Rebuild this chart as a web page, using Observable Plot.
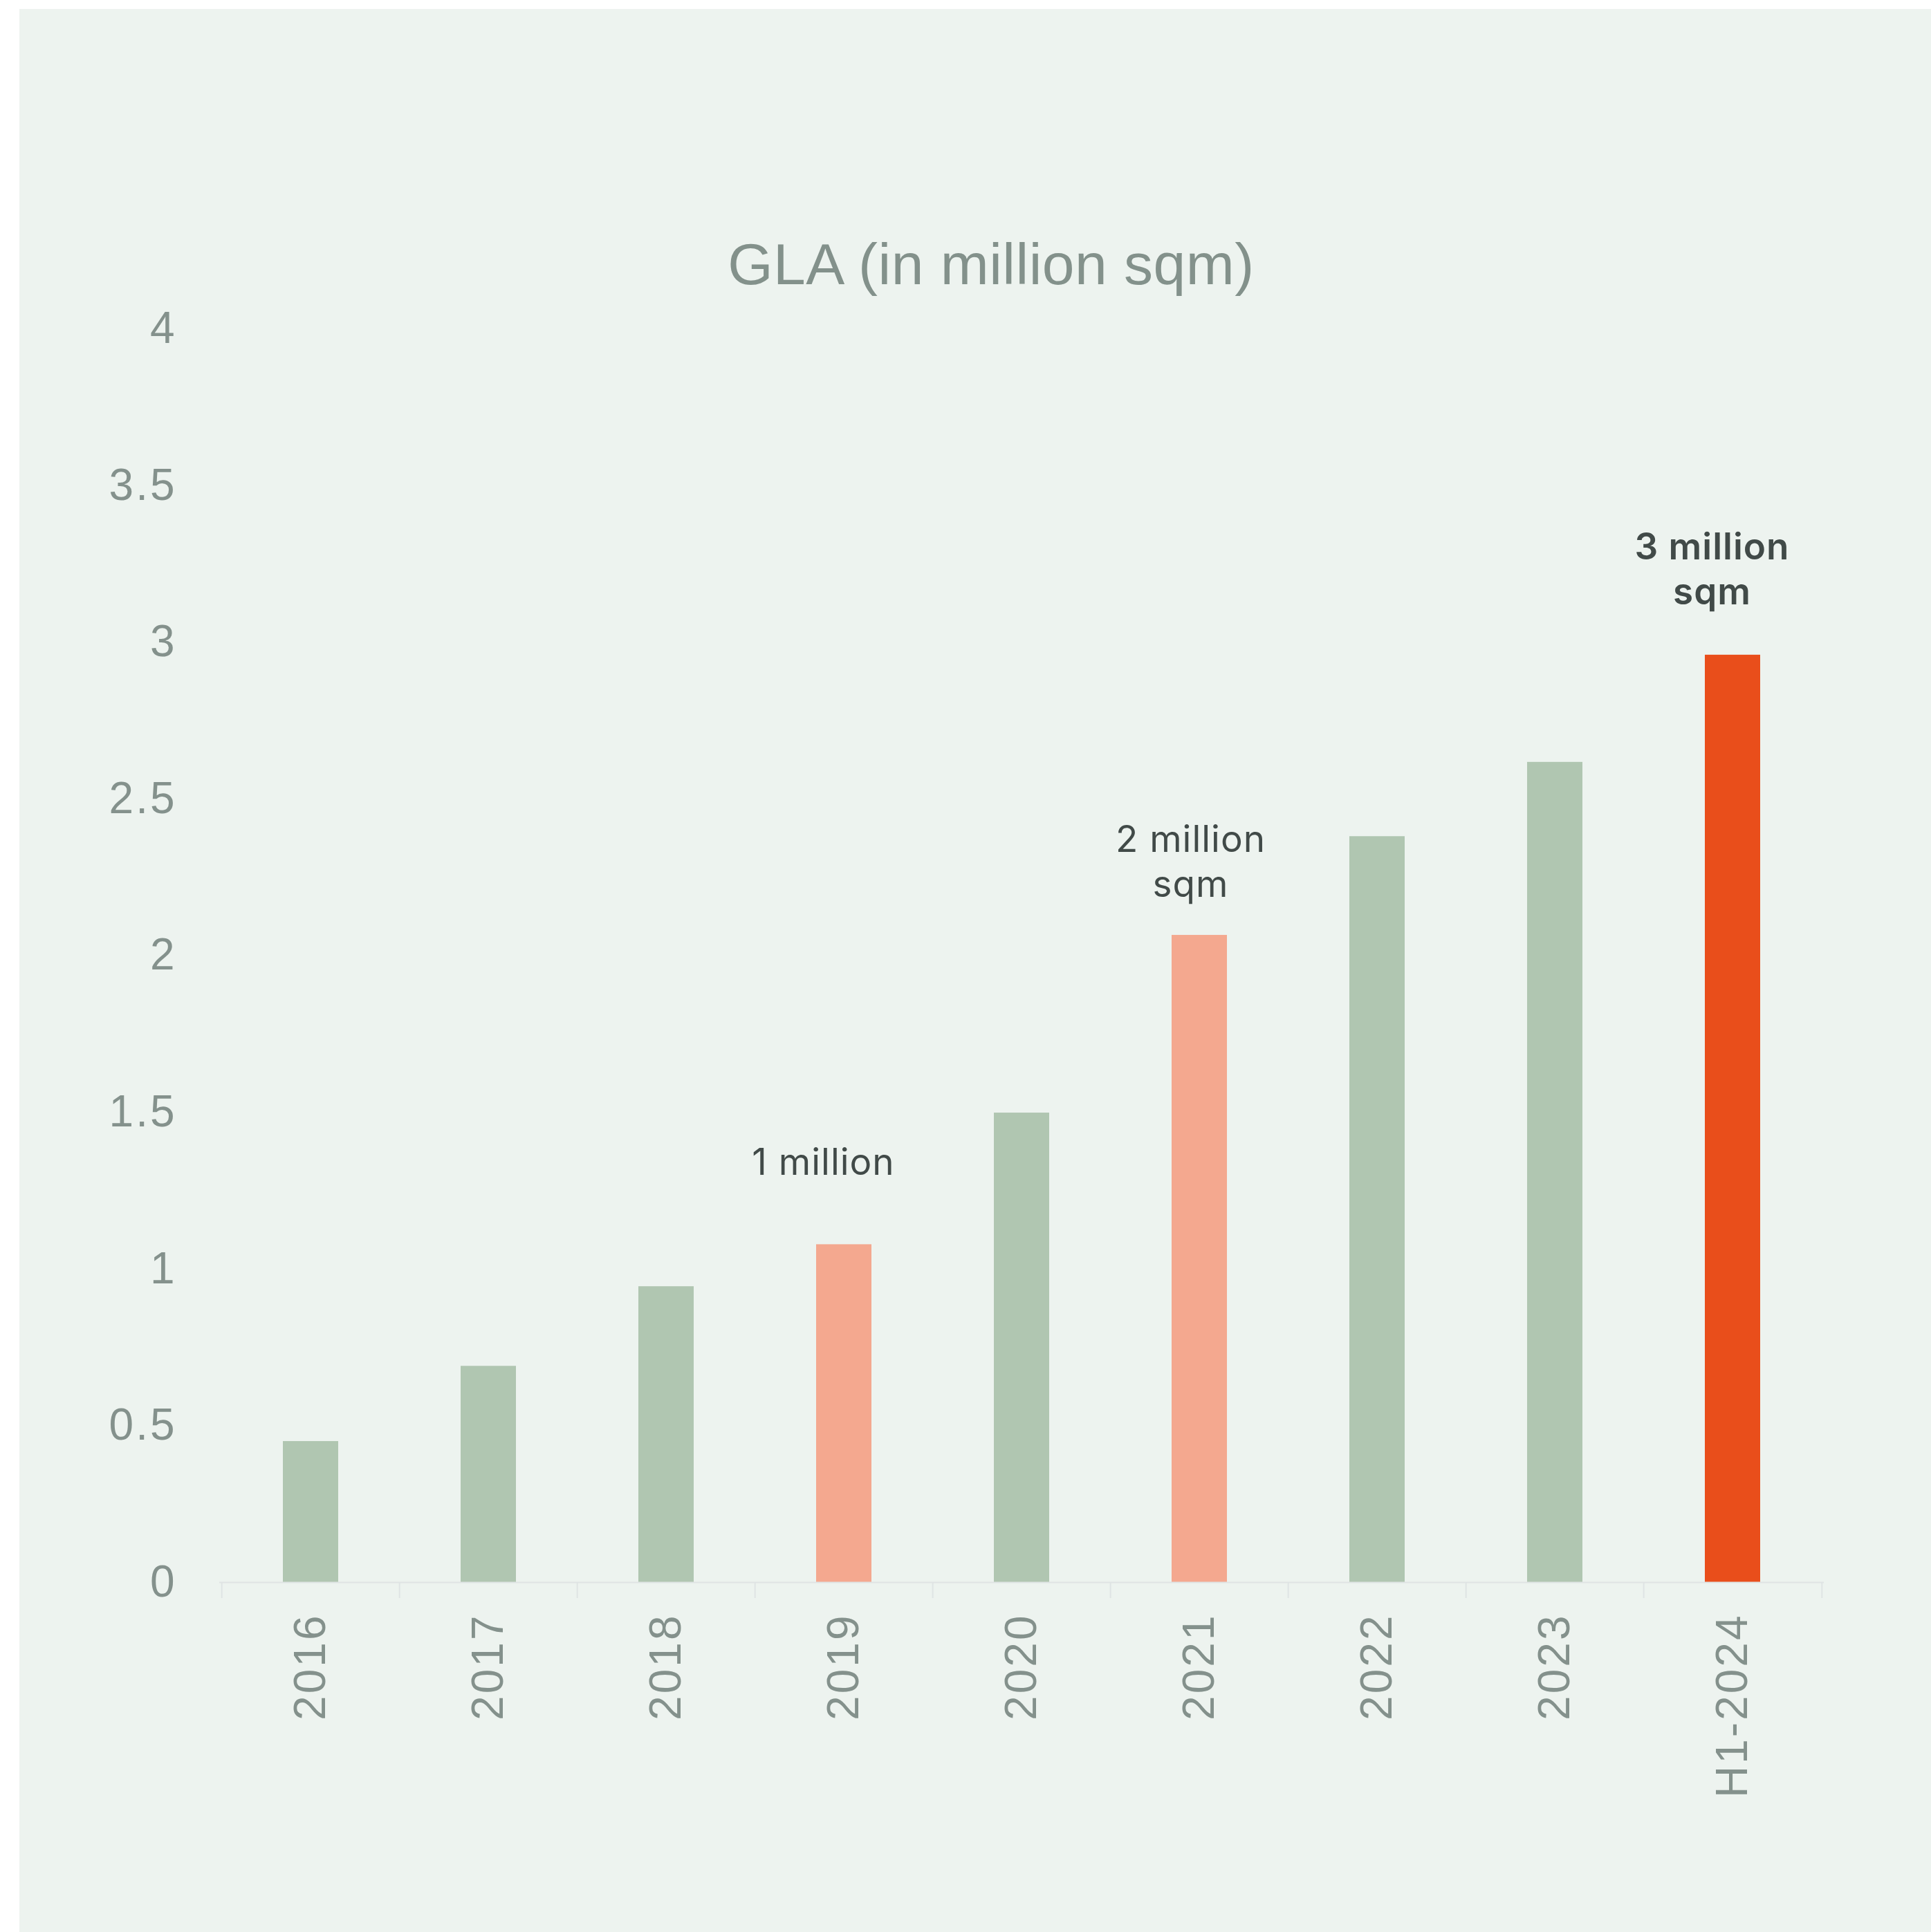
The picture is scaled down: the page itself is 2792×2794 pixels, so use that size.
<!DOCTYPE html>
<html>
<head>
<meta charset="utf-8">
<script src="https://cdn.jsdelivr.net/npm/d3@7"></script>
<script src="https://cdn.jsdelivr.net/npm/@observablehq/plot@0.6"></script>
<style>
  html, body { margin: 0; padding: 0; background: #ffffff; }
  body { width: 2792px; height: 2794px; position: relative; overflow: hidden; }
  #panel { position: absolute; left: 28px; top: 13px; width: 2764px; height: 2781px; background: #edf3ef; }
  #title { position: absolute; top: 340px; left: 1433px; transform: translateX(-50%); white-space: nowrap;
           font-family: "Liberation Sans", Arial, sans-serif; font-size: 84px; line-height: 84px; color: #83918b;
           letter-spacing: 0.5px; }
  #chart { position: absolute; left: 0; top: 410px; }
</style>
</head>
<body>
<div id="panel"></div>
<div id="title">GLA (in million sqm)</div>
<div id="chart"></div>
<script>
// ---- data ----
const categories = ["2016", "2017", "2018", "2019", "2020", "2021", "2022", "2023", "H1-2024"];
const values = [0.45, 0.69, 0.944, 1.078, 1.498, 2.065, 2.38, 2.617, 2.959];
const yTicks = [0, 0.5, 1, 1.5, 2, 2.5, 3, 3.5, 4];
const yTickLabels = ["0", "0.5", "1", "1.5", "2", "2.5", "3", "3.5", "4"];
const milestoneCats = ["2019", "2021"];
const currentCat = "H1-2024";
const annotationCats = ["2019", "2021", "H1-2024"];
const annotationLabels = ["1 million", "2 million\nsqm", "3 million\nsqm"];

// ---- build table ----
const data = categories.map((c, i) => ({cat: c, value: values[i]}));
const valueOf = new Map(data.map(d => [d.cat, d.value]));
const annotations = annotationCats.map((c, i) => ({cat: c, value: valueOf.get(c), label: annotationLabels[i]}));

const GREEN = "#b0c6b1", SALMON = "#f4a88f", ORANGE = "#e94e1b";
const fillFor = d => d.cat === currentCat ? ORANGE : milestoneCats.includes(d.cat) ? SALMON : GREEN;

const W = 2792, H = 2384;
const mL = 317, mR = 155, mT = 65, mB = 506;
const step = (W - mL - mR) / categories.length;
const AXIS = "#dfe4e4";
const TEXT = "#84918c";
const DARK = "#414a48";

const annStyle = {x: "cat", y: "value", text: "label", lineAnchor: "bottom", textAnchor: "middle",
  fontSize: 53, fontFamily: "Inter, 'Noto Sans', sans-serif", fill: DARK, lineHeight: 1.226};

const plot = Plot.plot({
  width: W,
  height: H,
  marginLeft: mL, marginRight: mR, marginTop: mT, marginBottom: mB,
  style: {background: "transparent", color: TEXT, fontFamily: "'Liberation Sans', Arial, sans-serif"},
  x: {domain: categories, paddingInner: 0.69, paddingOuter: 0.345, label: null},
  y: {domain: [0, 4], label: null},
  marks: [
    Plot.barY(data, {x: "cat", y: "value", fill: fillFor}),
    Plot.ruleY([0], {stroke: AXIS, strokeWidth: 2}),
    // band boundary ticks
    Plot.axisX({ticks: categories, tickSize: 23, tickFormat: () => "", stroke: AXIS, strokeWidth: 2, dx: -step / 2, label: null}),
    Plot.axisX({ticks: [categories[categories.length - 1]], tickSize: 23, tickFormat: () => "", stroke: AXIS, strokeWidth: 2, dx: step / 2, label: null}),
    // category labels
    Plot.axisX({ticks: categories, tickSize: 0, tickPadding: 45, tickRotate: -90, textAnchor: "end", fontSize: 64, fill: TEXT, label: null}),
    Plot.axisY({ticks: yTicks, tickSize: 0, tickPadding: 62, fontSize: 64, fill: TEXT, label: null,
      tickFormat: d => yTickLabels[yTicks.indexOf(d)]}),
    Plot.text(annotations.filter(d => d.cat === "2019"), {...annStyle, dx: -30, dy: -101}),
    Plot.text(annotations.filter(d => d.cat === "2021"), {...annStyle, dx: -13, dy: -56}),
    Plot.text(annotations.filter(d => d.cat === currentCat), {...annStyle, dx: -30, dy: -73, fontWeight: 600})
  ]
});
// letter spacing to match the reference's slightly wider type
d3.select(plot).selectAll("g[aria-label='x-axis tick label'] text, g[aria-label='y-axis tick label'] text").style("letter-spacing", "3px");
d3.select(plot).selectAll("g[aria-label='text'] text").style("letter-spacing", "1px");
document.getElementById("chart").appendChild(plot);
</script>
</body>
</html>
